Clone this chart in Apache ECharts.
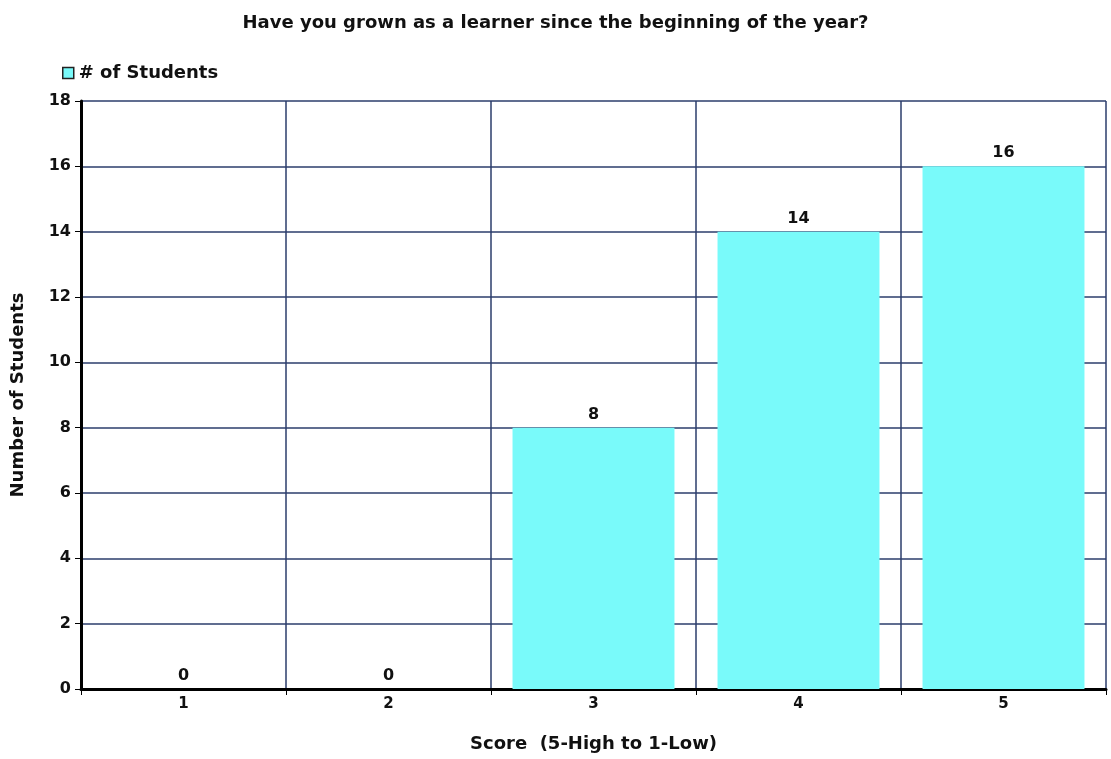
<!DOCTYPE html>
<html><head><meta charset="utf-8">
<script src="https://cdn.jsdelivr.net/npm/echarts@6/dist/echarts.min.js"></script>
<style>html,body{margin:0;padding:0;background:#fff}#c{width:1111px;height:759px}</style>
</head><body><div id="c"></div>
<script>
var categories = ['1', '2', '3', '4', '5'];
var students = [0, 0, 8, 14, 16];
var yTicks = { min: 0, max: 18, interval: 2 };
var titleText = 'Have you grown as a learner since the beginning of the year?';
var seriesName = '# of Students';
var xName = 'Score  (5-High to 1-Low)';
var yName = 'Number of Students';

var FONT = '"Comic Sans MS", "DejaVu Sans", sans-serif';
var chart = echarts.init(document.getElementById('c'), null, { renderer: 'canvas' });
chart.setOption({
  animation: false,
  backgroundColor: '#fff',
  textStyle: { fontFamily: FONT },
  title: {
    text: titleText, left: 'center', top: 9,
    textStyle: { fontFamily: FONT, fontSize: 18, fontWeight: 'bold', color: '#111' }
  },
  legend: {
    data: [seriesName], left: 57, top: 59, itemWidth: 11, itemHeight: 11, itemGap: 7,
    icon: 'rect',
    itemStyle: { borderColor: '#222', borderWidth: 1.5 },
    textStyle: { fontFamily: FONT, fontSize: 18, fontWeight: 'bold', color: '#111' }
  },
  grid: { left: 81, right: 5, top: 101, bottom: 70 },
  xAxis: {
    type: 'category', data: categories,
    name: xName, nameLocation: 'middle', nameGap: 46,
    nameTextStyle: { fontFamily: FONT, fontSize: 18, fontWeight: 'bold', color: '#111' },
    axisLine: { lineStyle: { color: '#000', width: 3 } },
    axisTick: { show: true, length: 6, lineStyle: { color: '#000', width: 1 } },
    axisLabel: { fontFamily: FONT, fontSize: 15, fontWeight: 'bold', color: '#111', margin: 8 },
    splitLine: { show: true, lineStyle: { color: '#2b3d6b', width: 1.5 } }
  },
  yAxis: {
    type: 'value', min: yTicks.min, max: yTicks.max, interval: yTicks.interval,
    name: yName, nameLocation: 'middle', nameGap: 54, nameRotate: 90,
    nameTextStyle: { fontFamily: FONT, fontSize: 18, fontWeight: 'bold', color: '#111' },
    axisLine: { show: true, lineStyle: { color: '#000', width: 3 } },
    axisTick: { show: true, length: 6, lineStyle: { color: '#000', width: 1 } },
    axisLabel: { fontFamily: FONT, fontSize: 16, fontWeight: 'bold', color: '#111', margin: 10 },
    splitLine: { show: true, lineStyle: { color: '#2b3d6b', width: 1.5 } }
  },
  series: [{
    name: seriesName, type: 'bar', data: students,
    barCategoryGap: '21%',
    itemStyle: { color: '#79fafa', borderWidth: 0 },
    label: { show: true, position: 'top', distance: 5, fontFamily: FONT, fontSize: 16, fontWeight: 'bold', color: '#111' }
  }]
});
</script></body></html>
